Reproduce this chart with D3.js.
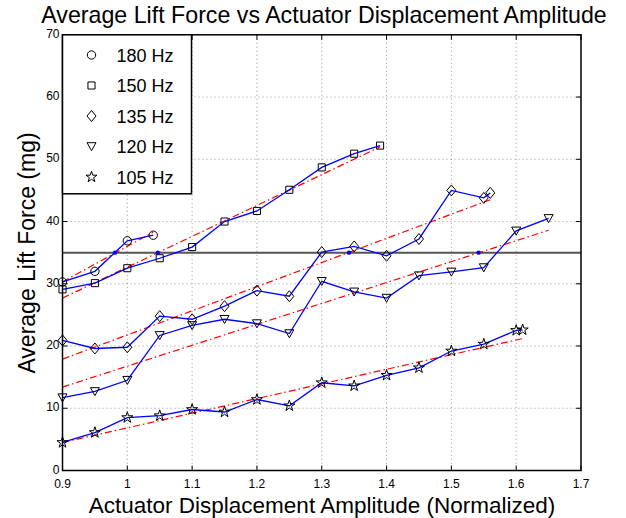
<!DOCTYPE html>
<html><head><meta charset="utf-8">
<script src="https://cdn.jsdelivr.net/npm/d3@7"></script>
<style>body{margin:0;background:#fff}svg{display:block}text{font-family:"Liberation Sans",Arial,sans-serif;fill:#000}</style>
</head><body><svg id="c" width="626" height="518"></svg>
<script>
const series = ["180 Hz","150 Hz","135 Hz","120 Hz","105 Hz"];
const markers = ["circle","square","diamond","triangle","star"];
const x180 = [0.9,0.95,1.0,1.04];
const y180 = [30.3,32.0,36.9,37.8];
const x150 = [0.9,0.95,1.0,1.05,1.1,1.15,1.2,1.25,1.3,1.35,1.39];
const y150 = [29.1,30.1,32.5,34.1,35.9,40.0,41.7,45.1,48.7,50.9,52.2];
const x135 = [0.9,0.95,1.0,1.05,1.1,1.15,1.2,1.25,1.3,1.35,1.4,1.45,1.5,1.55,1.56];
const y135 = [20.9,19.6,19.8,24.8,24.3,26.4,28.9,28.0,35.1,36.0,34.5,37.2,45.0,43.8,44.6];
const x120 = [0.9,0.95,1.0,1.05,1.1,1.15,1.2,1.25,1.3,1.35,1.4,1.45,1.5,1.55,1.6,1.65];
const y120 = [11.7,12.7,14.5,21.7,23.3,24.3,23.6,22.0,30.4,28.7,27.7,31.3,31.9,32.6,38.5,40.5];
const x105 = [0.9,0.95,1.0,1.05,1.1,1.15,1.2,1.25,1.3,1.35,1.4,1.45,1.5,1.55,1.6,1.61];
const y105 = [4.5,6.1,8.5,8.8,9.8,9.4,11.4,10.4,14.1,13.6,15.3,16.5,19.2,20.3,22.5,22.6];
// fitted trend line endpoints
const fitX0 = [0.9,0.9,0.9,0.9,0.9];
const fitY0 = [30.3,27.7,17.9,13.4,4.5];
const fitX1 = [1.04,1.39,1.56,1.65,1.61];
const fitY1 = [38.3,52.0,43.5,38.6,21.2];
// trend line crossings of the 35 mg threshold
const crossX = [0.981,1.047,1.342,1.542];
const threshold = 35;
const xTicks = [0.9,1.0,1.1,1.2,1.3,1.4,1.5,1.6,1.7];
const yTicks = [0,10,20,30,40,50,60,70];

const xs=[x180,x150,x135,x120,x105], ys=[y180,y150,y135,y120,y105];
const svg=d3.select("#c");
const L=62.5,R=581,T=34.8,B=470.5;
const x=d3.scaleLinear().domain([0.9,1.7]).range([L,R]);
const y=d3.scaleLinear().domain([0,70]).range([B,T]);

// grid
const g=svg.append("g");
g.selectAll(".gx").data(xTicks.slice(1,-1)).enter().append("line")
 .attr("x1",d=>x(d)).attr("x2",d=>x(d)).attr("y1",T).attr("y2",B)
 .attr("stroke","#555").attr("stroke-width",0.6).attr("stroke-dasharray","1,3");
g.selectAll(".gy").data(yTicks.slice(1,-1)).enter().append("line")
 .attr("y1",d=>y(d)).attr("y2",d=>y(d)).attr("x1",L).attr("x2",R)
 .attr("stroke","#555").attr("stroke-width",0.6).attr("stroke-dasharray","1,3");

// threshold line
svg.append("line").attr("x1",L).attr("x2",R).attr("y1",y(threshold)).attr("y2",y(threshold))
 .attr("stroke","#555").attr("stroke-width",2);

// fit lines
series.forEach((s,i)=>{
 svg.append("line").attr("x1",x(fitX0[i])).attr("y1",y(fitY0[i])).attr("x2",x(fitX1[i])).attr("y2",y(fitY1[i]))
  .attr("stroke","#ff0000").attr("stroke-width",1.2).attr("stroke-dasharray","7,3,1.5,3");
});
// data lines
const line=d3.line().x(d=>x(d[0])).y(d=>y(d[1]));
series.forEach((s,i)=>{
 const pts=xs[i].map((v,j)=>[v,ys[i][j]]);
 svg.append("path").datum(pts).attr("d",line).attr("fill","none").attr("stroke","#0000ff").attr("stroke-width",1.3);
});
// crossing dots
svg.selectAll(".cd").data(crossX).enter().append("circle")
 .attr("cx",d=>x(d)).attr("cy",y(threshold)).attr("r",2.2).attr("fill","#0000ff");

function symPath(m){
 if(m==="circle") return d3.symbol().type(d3.symbolCircle).size(55)();
 if(m==="square") return d3.symbol().type(d3.symbolSquare).size(50)();
 if(m==="diamond") return "M0,-5.5L4.5,0L0,5.5L-4.5,0Z";
 if(m==="triangle") return "M-4.5,-3.8L4.5,-3.8L0,4.2Z";
 return d3.symbol().type(d3.symbolStar).size(38)();
}
function addMarker(sel,m,cx,cy){
 sel.append("path").attr("d",symPath(m)).attr("fill","none").attr("stroke","#000").attr("stroke-width",1)
  .attr("transform",`translate(${cx},${cy})`);
}
series.forEach((s,i)=>{
 xs[i].forEach((v,j)=>addMarker(svg,markers[i],x(v),y(ys[i][j])));
});

// frame & ticks
svg.append("rect").attr("x",L).attr("y",T).attr("width",R-L).attr("height",B-T).attr("fill","none").attr("stroke","#000").attr("stroke-width",1.5);
const tk=svg.append("g");
xTicks.forEach(v=>{
 tk.append("line").attr("x1",x(v)).attr("x2",x(v)).attr("y1",B).attr("y2",B-5).attr("stroke","#000");
 tk.append("line").attr("x1",x(v)).attr("x2",x(v)).attr("y1",T).attr("y2",T+5).attr("stroke","#000");
 tk.append("text").attr("x",x(v)).attr("y",B+17).attr("text-anchor","middle").attr("font-size",12).text(v===1?"1":d3.format(".1f")(v));
});
yTicks.forEach(v=>{
 tk.append("line").attr("y1",y(v)).attr("y2",y(v)).attr("x1",L).attr("x2",L+5).attr("stroke","#000");
 tk.append("line").attr("y1",y(v)).attr("y2",y(v)).attr("x1",R).attr("x2",R-5).attr("stroke","#000");
 tk.append("text").attr("x",L-3).attr("y",y(v)+3).attr("text-anchor","end").attr("font-size",12).text(v);
});

// legend
const lg=svg.append("g");
lg.append("rect").attr("x",L).attr("y",T).attr("width",129).attr("height",159).attr("fill","#fff").attr("stroke","#000").attr("stroke-width",1.5);
series.forEach((s,i)=>{
 const cy=55+i*30.5;
 addMarker(lg,markers[i],91.5,cy);
 lg.append("text").attr("x",116.5).attr("y",cy+6.5).attr("font-size",18).text(s);
});

// titles
svg.append("text").attr("x",324).attr("y",23).attr("text-anchor","middle").attr("font-size",23.2).text("Average Lift Force vs Actuator Displacement Amplitude");
svg.append("text").attr("x",322).attr("y",513).attr("text-anchor","middle").attr("font-size",22.5).text("Actuator Displacement Amplitude (Normalized)");
svg.append("text").attr("transform","translate(35,253) rotate(-90)").attr("text-anchor","middle").attr("font-size",23).text("Average Lift Force (mg)");
</script></body></html>
